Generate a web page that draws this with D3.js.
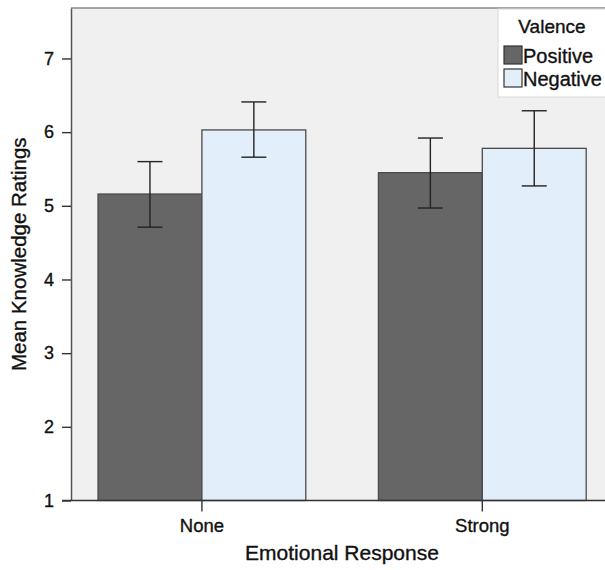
<!DOCTYPE html>
<html>
<head>
<meta charset="utf-8">
<script src="https://cdn.jsdelivr.net/npm/d3@7"></script>
<style>
  body { margin: 0; background: #fff; }
  svg text { font-family: "Liberation Sans", Arial, sans-serif; fill: #111; stroke: #111; stroke-width: 0.35px; }
</style>
</head>
<body>
<svg id="chart" width="605" height="570"></svg>
<script>
// 数据
const categories = ['None', 'Strong'];
const series = ['Positive', 'Negative'];
const means = {
  None:   [5.16, 6.03],
  Strong: [5.45, 5.78]
};
const ciLow = {
  None:   [4.71, 5.66],
  Strong: [4.97, 5.27]
};
const ciHigh = {
  None:   [5.60, 6.41],
  Strong: [5.92, 6.29]
};
const yTicks = [1, 2, 3, 4, 5, 6, 7];
const colors = { Positive: '#666666', Negative: '#e3eefb' };

const svg = d3.select('#chart');

// 绘图区域
const plot = { left: 71, right: 606, top: 8, bottom: 500.5 };

const y = d3.scaleLinear()
  .domain([1, 7.685])
  .range([plot.bottom, plot.top]);

const x = d3.scaleBand()
  .domain(categories)
  .range([plot.left, plot.right])
  .paddingInner(0.259)
  .paddingOuter(0.0835)
  .align(0.577);

const xInner = d3.scaleBand()
  .domain(series)
  .range([0, x.bandwidth()]);

// 背景
svg.append('rect')
  .attr('x', plot.left)
  .attr('y', plot.top)
  .attr('width', plot.right - plot.left)
  .attr('height', plot.bottom - plot.top)
  .attr('fill', '#f0f0f0');

svg.append('line')
  .attr('x1', plot.left).attr('x2', plot.right)
  .attr('y1', plot.top).attr('y2', plot.top)
  .attr('stroke', '#8a8a8a').attr('stroke-width', 1.5);

// 柱子
const rows = categories.flatMap(c => series.map((s, i) => ({
  cat: c, s, mean: means[c][i], lo: ciLow[c][i], hi: ciHigh[c][i]
})));

svg.append('g')
  .selectAll('rect.bar')
  .data(rows)
  .enter()
  .append('rect')
  .attr('class', 'bar')
  .attr('x', d => x(d.cat) + xInner(d.s))
  .attr('y', d => y(d.mean))
  .attr('width', xInner.bandwidth())
  .attr('height', d => y(1) - y(d.mean))
  .attr('fill', d => colors[d.s])
  .attr('stroke', '#4a4a4a')
  .attr('stroke-width', 1.3);

// 误差线
const eb = svg.append('g')
  .attr('stroke', '#222')
  .attr('stroke-width', 1.4);

rows.forEach(d => {
  const cx = x(d.cat) + xInner(d.s) + xInner.bandwidth() / 2;
  eb.append('line')
    .attr('x1', cx).attr('x2', cx)
    .attr('y1', y(d.hi)).attr('y2', y(d.lo));
  [d.hi, d.lo].forEach(v => {
    eb.append('line')
      .attr('x1', cx - 12.5).attr('x2', cx + 12.5)
      .attr('y1', y(v)).attr('y2', y(v));
  });
});

// Y 轴
const yAxis = svg.append('g')
  .attr('transform', `translate(${plot.left},0)`)
  .call(d3.axisLeft(y).tickValues(yTicks).tickSize(9).tickSizeOuter(0).tickPadding(8).tickFormat(d3.format('d')));
yAxis.select('.domain').attr('stroke', '#555').attr('stroke-width', 1.5);
yAxis.selectAll('.tick line').attr('stroke', '#333').attr('stroke-width', 1.4);
yAxis.selectAll('.tick text')
  .style('font-size', '18px')
  .style('font-family', '"Liberation Sans", Arial, sans-serif');

// X 轴
const xAxis = svg.append('g')
  .attr('transform', `translate(0,${plot.bottom})`)
  .call(d3.axisBottom(x).tickSize(11).tickPadding(7).tickSizeOuter(0));
xAxis.select('.domain')
  .attr('d', `M${plot.left - 9},0H${plot.right}`)
  .attr('stroke', '#333').attr('stroke-width', 1.5);
xAxis.selectAll('.tick line').attr('stroke', '#333').attr('stroke-width', 1.4);
xAxis.selectAll('.tick text')
  .style('font-size', '18.5px')
  .style('font-family', '"Liberation Sans", Arial, sans-serif');

// 轴标题
svg.append('text')
  .attr('x', 342)
  .attr('y', 560)
  .attr('text-anchor', 'middle')
  .style('font-size', '21px')
  .text('Emotional Response');

svg.append('text')
  .attr('transform', `translate(26,${(plot.top + plot.bottom) / 2}) rotate(-90)`)
  .attr('text-anchor', 'middle')
  .style('font-size', '20.5px')
  .text('Mean Knowledge Ratings');

// 图例
const lg = svg.append('g');
lg.append('rect')
  .attr('x', 498).attr('y', 9)
  .attr('width', 110).attr('height', 88)
  .attr('fill', '#fff')
  .attr('stroke', '#d8d8d8');

lg.append('text')
  .attr('x', 552).attr('y', 33)
  .attr('text-anchor', 'middle')
  .style('font-size', '19px')
  .text('Valence');

series.forEach((s, i) => {
  const yy = 46 + i * 23;
  lg.append('rect')
    .attr('x', 504).attr('y', yy)
    .attr('width', 18).attr('height', 18)
    .attr('fill', colors[s])
    .attr('stroke', '#333')
    .attr('stroke-width', 1.2);
  lg.append('text')
    .attr('x', 523).attr('y', yy + 17)
    .style('font-size', '20px')
    .text(s);
});
</script>
</body>
</html>
